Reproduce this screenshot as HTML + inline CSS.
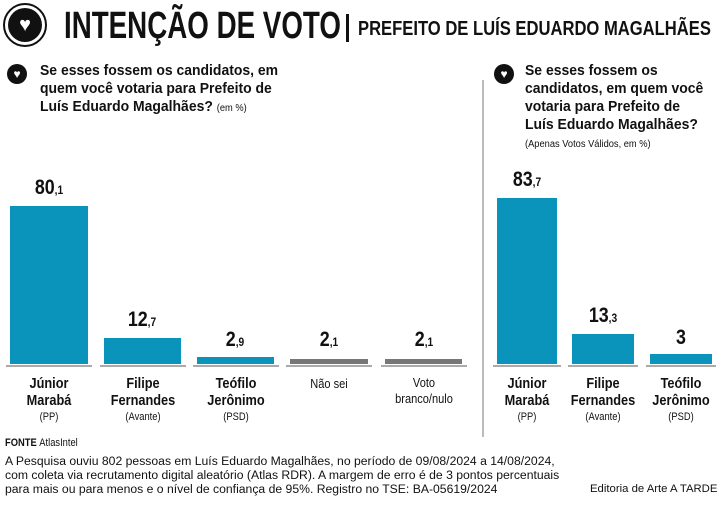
<!DOCTYPE html>
<html><head><meta charset="utf-8"><style>
body{margin:0;width:723px;height:506px;background:#fff;position:relative;overflow:hidden;font-family:"Liberation Sans",sans-serif;color:#111}
.a{position:absolute;white-space:nowrap}
.bar{position:absolute;background:#0a93bb}
.g{position:absolute;background:#777}
.base{position:absolute;height:2px;background:#aaa;top:365px}
.v{position:absolute;font-weight:bold;font-size:21px;text-align:center;width:80px;transform:scaleX(.85)}
.v small{font-size:12px}
.lab{position:absolute;text-align:center;font-weight:bold;font-size:15px;line-height:17px;width:90px;top:375px;transform:scaleX(.85);white-space:nowrap}
.lab i{font-style:normal;font-weight:normal;font-size:11px;display:block}
.q{font-weight:bold;font-size:15px;line-height:18px;transform:scaleX(.93);transform-origin:left top}
.ic{position:absolute;width:20px;height:20px;border-radius:50%;background:#111;color:#fff;font-size:12px;text-align:center;line-height:20px}
</style></head><body>
<div class="a" style="left:3px;top:3px;width:44px;height:44px;border-radius:50%;border:2px solid #111;box-sizing:border-box"></div>
<div class="a" style="left:8px;top:8px;width:34px;height:34px;border-radius:50%;background:#111;color:#fff;text-align:center;line-height:34px;font-size:20px">♥</div>
<div class="a" style="left:64px;top:4px;font-size:38px;font-weight:bold;line-height:44px;transform:scaleX(.73);transform-origin:left top">INTENÇÃO DE VOTO</div>
<div class="a" style="left:346px;top:14px;width:3px;height:28px;background:#111"></div>
<div class="a" style="left:358px;top:16px;font-size:20px;font-weight:bold;line-height:26px;transform:scaleX(.83);transform-origin:left top">PREFEITO DE LUÍS EDUARDO MAGALHÃES</div>
<div class="ic" style="left:7px;top:64px">♥</div>
<div class="a q" style="left:40px;top:62px">Se esses fossem os candidatos, em<br>quem você votaria para Prefeito de<br>Luís Eduardo Magalhães? <span style="font-size:10px;font-weight:normal">(em %)</span></div>
<div class="ic" style="left:494px;top:64px">♥</div>
<div class="a q" style="left:525px;top:62px">Se esses fossem os<br>candidatos, em quem você<br>votaria para Prefeito de<br>Luís Eduardo Magalhães?<br><span style="font-size:10px;font-weight:normal">(Apenas Votos Válidos, em %)</span></div>
<div class="a" style="left:482px;top:80px;width:2px;height:357px;background:#bbb"></div>

<div class="bar" style="left:10px;top:206px;width:78px;height:158px"></div>
<div class="bar" style="left:104px;top:338px;width:77px;height:26px"></div>
<div class="bar" style="left:197px;top:357px;width:77px;height:7px"></div>
<div class="g" style="left:290px;top:359px;width:78px;height:5px"></div>
<div class="g" style="left:385px;top:359px;width:77px;height:5px"></div>
<div class="bar" style="left:497px;top:198px;width:60px;height:166px"></div>
<div class="bar" style="left:572px;top:334px;width:62px;height:30px"></div>
<div class="bar" style="left:650px;top:354px;width:62px;height:10px"></div>
<div class="base" style="left:6px;width:86px"></div><div class="base" style="left:100px;width:86px"></div><div class="base" style="left:193px;width:86px"></div><div class="base" style="left:286px;width:86px"></div><div class="base" style="left:381px;width:86px"></div>
<div class="base" style="left:493px;width:68px"></div><div class="base" style="left:568px;width:70px"></div><div class="base" style="left:646px;width:70px"></div>

<div class="v" style="left:9px;top:176px">80<small>,1</small></div>
<div class="v" style="left:102px;top:308px">12<small>,7</small></div>
<div class="v" style="left:195px;top:328px">2<small>,9</small></div>
<div class="v" style="left:289px;top:328px">2<small>,1</small></div>
<div class="v" style="left:384px;top:328px">2<small>,1</small></div>
<div class="v" style="left:487px;top:168px">83<small>,7</small></div>
<div class="v" style="left:563px;top:304px">13<small>,3</small></div>
<div class="v" style="left:641px;top:326px">3</div>

<div class="lab" style="left:4px">Júnior<br>Marabá<i>(PP)</i></div>
<div class="lab" style="left:98px">Filipe<br>Fernandes<i>(Avante)</i></div>
<div class="lab" style="left:191px">Teófilo<br>Jerônimo<i>(PSD)</i></div>
<div class="lab" style="left:284px;font-weight:normal;font-size:13px">Não sei</div>
<div class="lab" style="left:379px;font-weight:normal;font-size:13px;line-height:16px">Voto<br>branco/nulo</div>
<div class="lab" style="left:482px">Júnior<br>Marabá<i>(PP)</i></div>
<div class="lab" style="left:558px">Filipe<br>Fernandes<i>(Avante)</i></div>
<div class="lab" style="left:636px">Teófilo<br>Jerônimo<i>(PSD)</i></div>

<div class="a" style="left:5px;top:437px;font-size:11px;font-weight:bold;transform:scaleX(.85);transform-origin:left top">FONTE <span style="font-weight:normal">AtlasIntel</span></div>
<div class="a" style="left:5px;top:455px;font-size:11.5px;line-height:14px;transform:scaleX(1.06);transform-origin:left top">A Pesquisa ouviu 802 pessoas em Luís Eduardo Magalhães, no período de 09/08/2024 a 14/08/2024,<br>com coleta via recrutamento digital aleatório (Atlas RDR). A margem de erro é de 3 pontos percentuais<br>para mais ou para menos e o nível de confiança de 95%. Registro no TSE: BA-05619/2024</div>
<div class="a" style="left:590px;top:483px;font-size:11px;transform:scaleX(1.03);transform-origin:left top">Editoria de Arte A TARDE</div>
</body></html>
